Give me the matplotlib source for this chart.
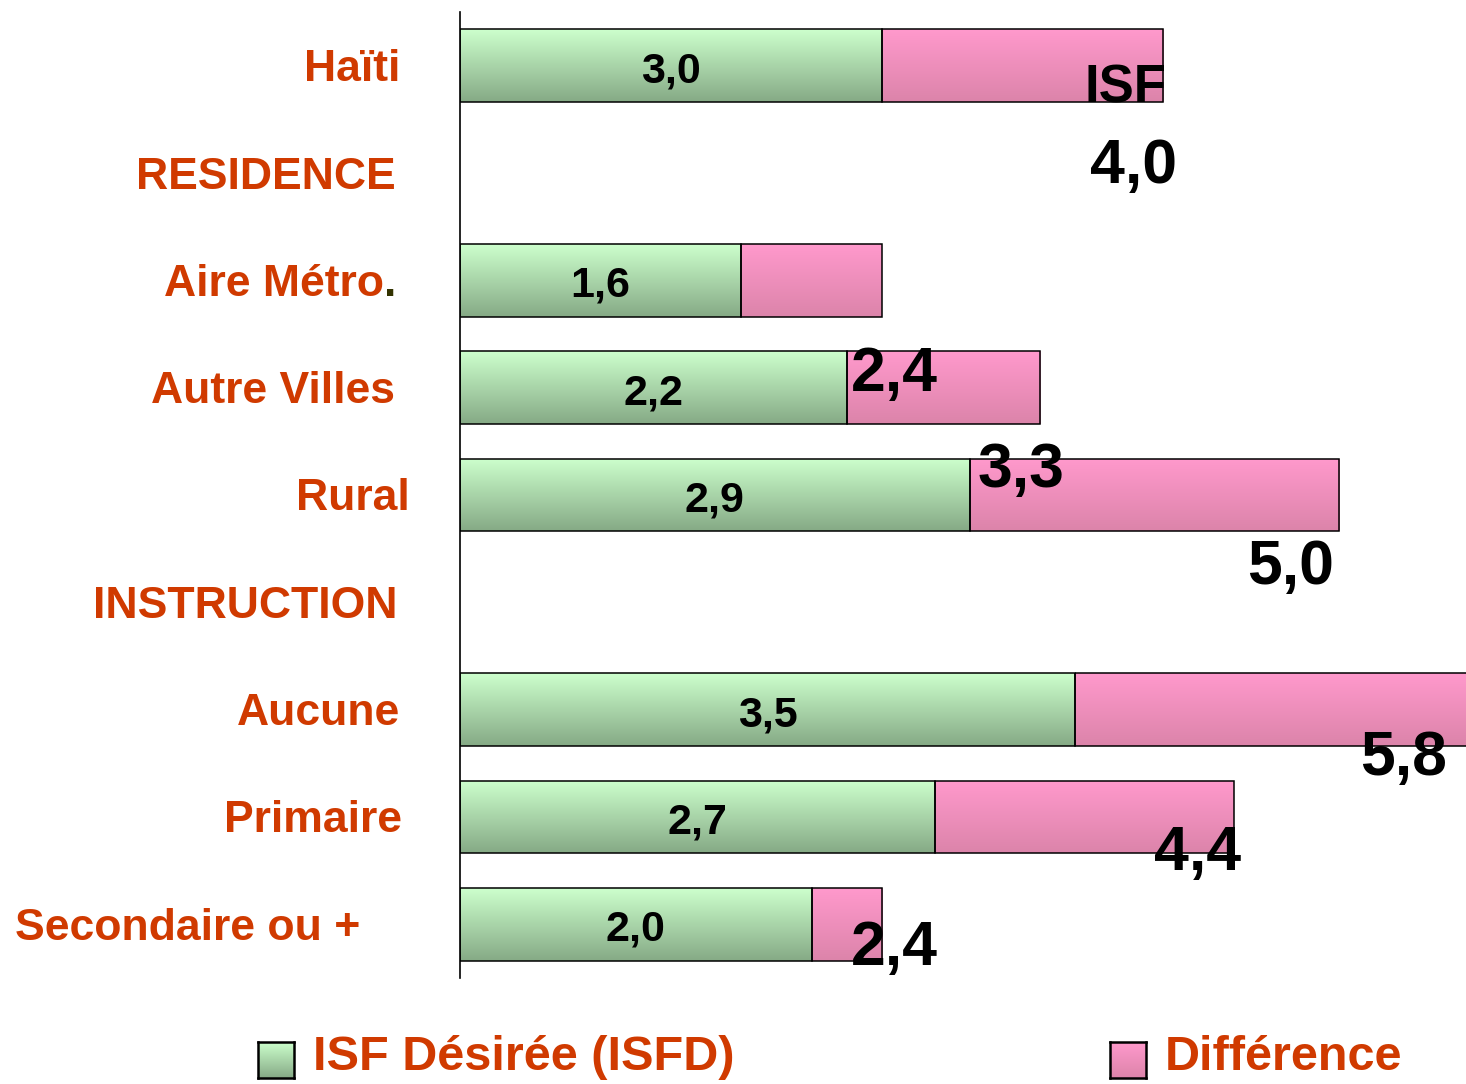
import numpy as np
import matplotlib
matplotlib.use('Agg')
import matplotlib.pyplot as plt

categories = ['Haïti', 'RESIDENCE', 'Aire Métro', 'Autre Villes', 'Rural',
              'INSTRUCTION', 'Aucune', 'Primaire', 'Secondaire ou +']
# rows with bars (RESIDENCE / INSTRUCTION are headings only)
bar_rows = [0, 2, 3, 4, 6, 7, 8]
isfd = [2.4, 1.6, 2.2, 2.9, 3.5, 2.7, 2.0]          # green part as drawn
difference = [1.6, 0.8, 1.1, 2.1, 2.3, 1.7, 0.4]    # pink part
isfd_labels = ['3,0', '1,6', '2,2', '2,9', '3,5', '2,7', '2,0']
isf_labels = ['4,0', '2,4', '3,3', '5,0', '5,8', '4,4', '2,4']

# layout (pixels)
label_right_px = [400, 396, 384, 395, 410, 397, 400, 402, 360]
isf_offsets_px = [(-30, -101), (12, -94), (-19, -83), (-48, -72),
                  (-76, -49), (-36, -37), (12, -24)]

orange = '#D03A00'
green_top, green_bot = '#CCFFCC', '#86AA86'
pink_top, pink_bot = '#FF99CC', '#DC84AA'

plt.rcParams['font.family'] = ['Liberation Sans', 'DejaVu Sans']
plt.rcParams['font.weight'] = 'bold'

W, H = 1466, 1084
fig = plt.figure(figsize=(W / 100, H / 100), dpi=100)
ax = fig.add_axes([460 / W, 1 - 978 / H, 1006 / W, 966 / H])


def gradient(c_top, c_bot, n=64):
    a = np.array(matplotlib.colors.to_rgb(c_top))
    b = np.array(matplotlib.colors.to_rgb(c_bot))
    t = np.linspace(0, 1, n)[:, None]
    return (a * (1 - t) + b * t)[:, None, :]


def fill_gradient(bars, c_top, c_bot):
    img = gradient(c_top, c_bot)
    for r in bars:
        x0, y0 = r.get_x(), r.get_y()
        w, h = r.get_width(), r.get_height()
        im = ax.imshow(img, extent=(x0, x0 + w, y0 + h, y0), origin='upper',
                       aspect='auto', zorder=1, interpolation='bilinear')
        im.set_clip_path(r)
        r.set_facecolor('none')


totals = np.array(isfd) + np.array(difference)
b1 = ax.barh(bar_rows, isfd, height=0.68, edgecolor='black', linewidth=1.1, zorder=2)
b2 = ax.barh(bar_rows, difference, left=isfd, height=0.68, edgecolor='black',
             linewidth=1.1, zorder=2)
fill_gradient(b1, green_top, green_bot)
fill_gradient(b2, pink_top, pink_bot)

ax.set_xlim(0, 1006 / 175.8)
ax.set_ylim(8.5, -0.5)

for sp in ['top', 'right', 'bottom']:
    ax.spines[sp].set_visible(False)
ax.spines['left'].set_linewidth(1.2)
ax.set_xticks([])
ax.set_yticks([])

# values inside the green part
for row, v, lab in zip(bar_rows, isfd, isfd_labels):
    ax.text(v / 2, row + 0.05, lab, ha='center', va='center', fontsize=31,
            color='black', zorder=3)

# ISF totals
for row, t, lab, (dx, dy) in zip(bar_rows, totals, isf_labels, isf_offsets_px):
    ax.annotate(lab, xy=(t, row), xytext=(dx, dy), textcoords='offset pixels',
                ha='center', va='center', fontsize=45, color='black',
                annotation_clip=False, zorder=4)

ax.annotate('ISF', xy=(totals[0], 0), xytext=(-38, -23), textcoords='offset pixels',
            ha='center', va='center', fontsize=38, color='black', zorder=4)

# category labels
for i, (cat, rx) in enumerate(zip(categories, label_right_px)):
    ax.annotate(cat, xy=(0, i), xytext=(rx - 460, -4), textcoords='offset pixels',
                ha='right', va='center', fontsize=32, color=orange,
                annotation_clip=False)
ax.annotate('.', xy=(0, 2), xytext=(384 - 460, -4), textcoords='offset pixels',
            ha='left', va='center', fontsize=32, color='#333300',
            annotation_clip=False)

# legend
for x0, c_top, c_bot, txt in [(258, green_top, green_bot, 'ISF Désirée (ISFD)'),
                              (1110, pink_top, pink_bot, 'Différence')]:
    lax = fig.add_axes([x0 / W, 1 - 1078 / H, 36 / W, 36 / H])
    lax.imshow(gradient(c_top, c_bot), aspect='auto', origin='upper')
    lax.set_xticks([])
    lax.set_yticks([])
    for sp in lax.spines.values():
        sp.set_linewidth(1.8)
    fig.text((x0 + 55) / W, 1 - 1058 / H, txt, ha='left', va='center',
             fontsize=35, color=orange)

fig.savefig('out.png', dpi=100)
